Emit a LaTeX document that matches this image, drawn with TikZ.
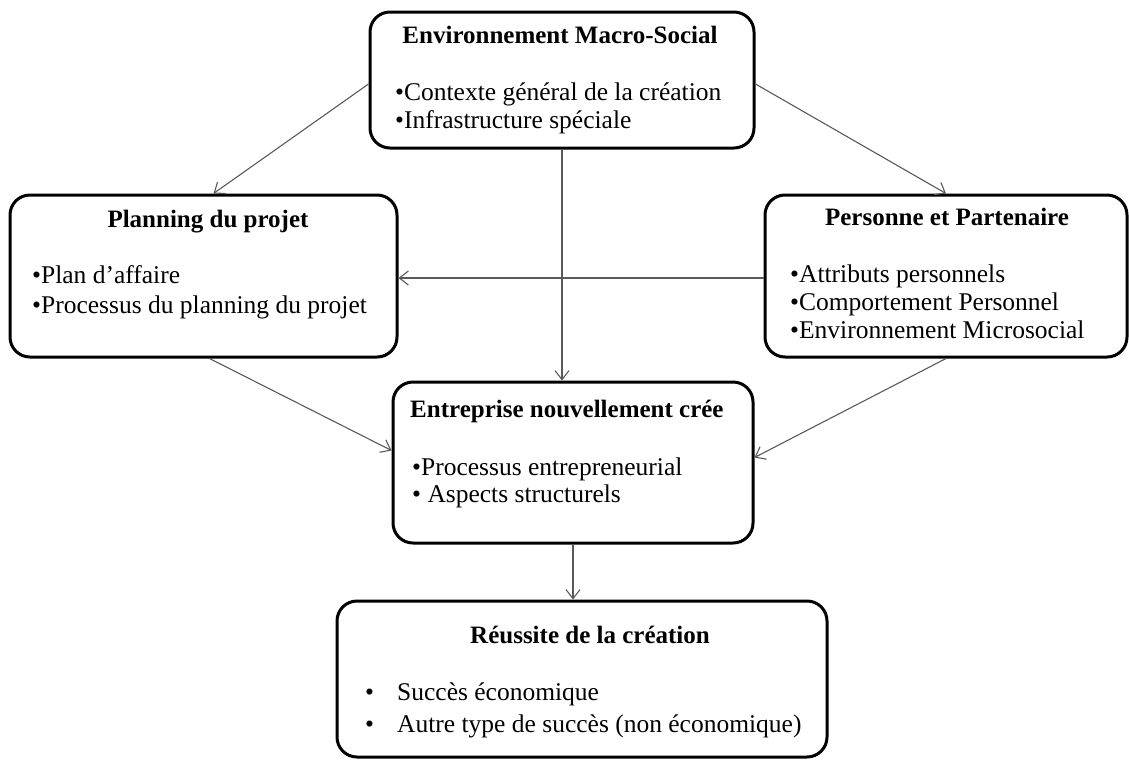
\documentclass[tikz,border=0pt]{standalone}
\usepackage{fontspec}
\setmainfont{Liberation Serif}
\usetikzlibrary{arrows.meta,calc}
\begin{document}
\begin{tikzpicture}[x=1pt,y=-1pt,
  box/.style={draw=black,line width=3pt,rounded corners=20pt,minimum width=#1,inner sep=0pt},
  ttl/.style={font=\fontsize{25}{28}\selectfont\bfseries,inner sep=0pt,anchor=base},
  lst/.style={font=\fontsize{25.5}{#1}\selectfont,inner sep=0pt,anchor=base west,align=left},
  conn/.style={draw=black!65,line width=1.1pt,-{Straight Barb[length=9pt,width=14pt]}}]
\useasboundingbox (0,0) rectangle (1129,761);
% boxes
\node[box=384pt,minimum height=136pt] (top) at (562,80) {};
\node[box=387pt,minimum height=162pt] (plan) at (203.5,276) {};
\node[box=362pt,minimum height=162pt] (pers) at (946,276) {};
\node[box=360pt,minimum height=161pt] (entr) at (573,462.5) {};
\node[box=490pt,minimum height=156pt] (reus) at (582,679) {};
% texts (anchor = baseline of last line)
\node[ttl] (topt) at (560,43) {Environnement Macro-Social};
\node[lst=28pt] (topl) at (395,128) {•Contexte général de la création\\•Infrastructure spéciale};
\node[ttl] (plant) at (208,227) {Planning du projet};
\node[lst=30pt] (planl) at (32,313) {•Plan d’affaire\\•Processus du planning du projet};
\node[ttl] (perst) at (947,225) {Personne et Partenaire};
\node[lst=28pt] (persl) at (790,338) {•Attributs personnels\\•Comportement Personnel\\•Environnement Microsocial};
\node[ttl,anchor=base west] (entrt) at (410,417) {Entreprise nouvellement crée};
\node[lst=27pt] (entrl) at (412,502) {•Processus entrepreneurial\\• Aspects structurels};
\node[ttl] (reust) at (590,643) {Réussite de la création};
\node[lst=32pt] (reusb) at (365,732) {•\\•};
\node[lst=32pt] (reusl) at (397,732) {Succès économique\\Autre type de succès (non économique)};
% connectors
\draw[conn] ([yshift=-4pt]top.west) -- ([xshift=10pt]plan.north);
\draw[conn] ([yshift=-4pt]top.east) -- (pers.north);
\draw[conn] (top.south) -- (top.south |- entr.north);
\draw[conn] ([yshift=-2pt]pers.west) -- ([yshift=-2pt]plan.east);
\draw[conn] ([xshift=6pt]plan.south) -- ([yshift=12pt]entr.west);
\draw[conn] (pers.south) -- ([yshift=5pt]entr.east);
\draw[conn] (entr.south) -- (entr.south |- reus.north);
\end{tikzpicture}
\end{document}
